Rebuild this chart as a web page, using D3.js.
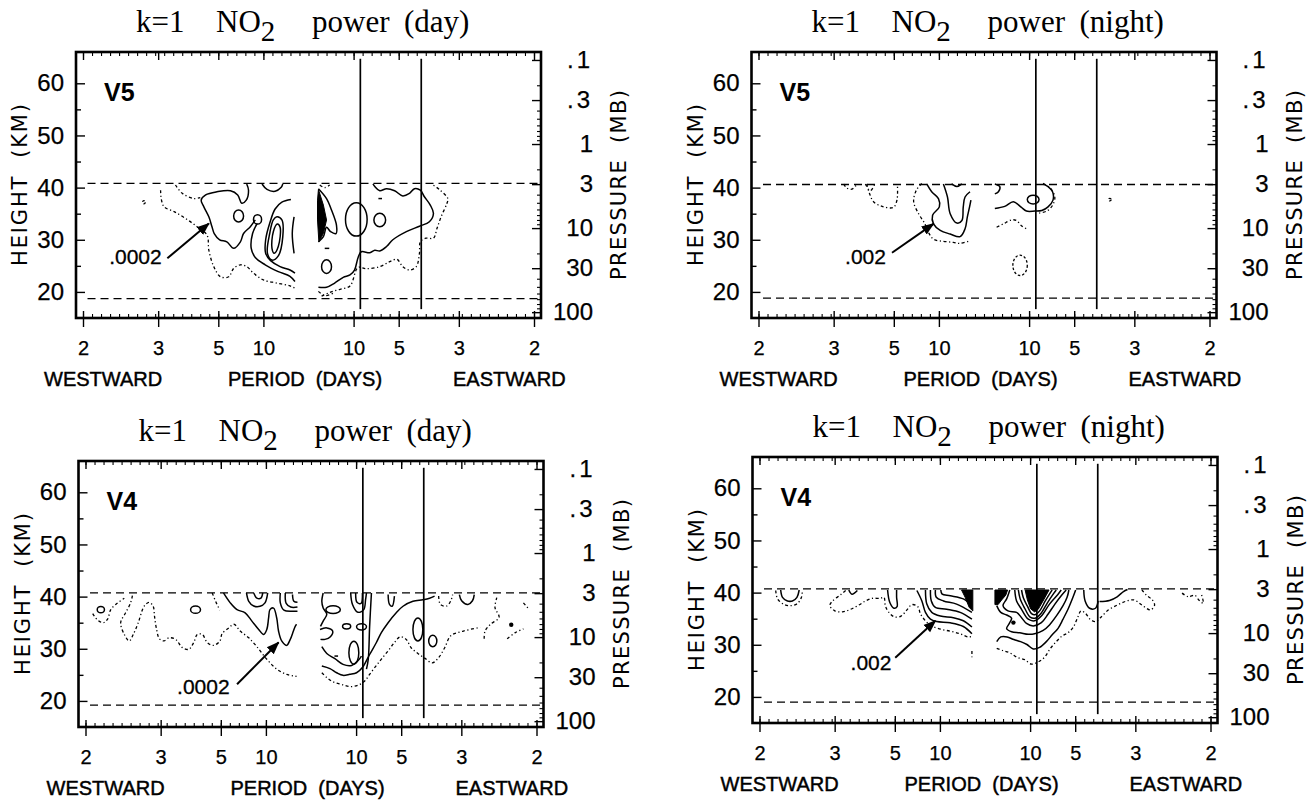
<!DOCTYPE html>
<html>
<head>
<meta charset="utf-8">
<script src="https://cdn.jsdelivr.net/npm/d3@7"></script>
<style>
  body { margin: 0; background: #fff; }
  svg { display: block; }
</style>
</head>
<body>
<svg id="chart" width="1315" height="804"></svg>
<script>
// ---- axis values ----
// signed periods in days, negative = westward (frequency = 1 / period)
const periodTicks = [-2, -3, -5, -10, 10, 5, 3, 2];
const heightTicks = [20, 30, 40, 50, 60];
const heightMinor = [25, 35, 45, 55];
const pressureTicks = [0.1, 0.3, 1, 3, 10, 30, 100];
const pressureLabels = [".1", ".3", "1", "3", "10", "30", "100"];
const pressureMinor = [0.2, 0.4, 0.5, 0.6, 0.7, 0.8, 0.9, 2, 4, 5, 6, 7, 8, 9, 20, 40, 50, 60, 70, 80, 90];
const cutoffPeriods = [8.7, 4.0];          // eastward periods of the two vertical lines
const cutoffHeights = [16.7, 64.7];

// ---- panel values ----
const panelWhen = ["day", "night", "day", "night"];
const panelVersion = ["V5", "V5", "V4", "V4"];
const contourLabel = [".0002", ".002", ".0002", ".002"];
const dashedLevels = [[40.8, 18.7], [40.6, 18.8], [40.7, 19.2], [40.7, 19.0]];
const labelAt = [[-0.442, 25.4], [-0.308, 25.3], [-0.297, 21.3], [-0.298, 25.2]];
const arrowFromTo = [
  [[-0.313, 26.45], [-0.221, 33.1]],
  [[-0.204, 27.5], [-0.112, 33.05]],
  [[-0.164, 23.2], [-0.072, 31.2]],
  [[-0.199, 27.5], [-0.110, 34.6]]
];

// contours as [frequency (cycles/day), height (km)]
// V5 day
const v5DayLines = [
  [[-0.137,40.7],[-0.133,39.5],[-0.138,37.6],[-0.148,37.0],[-0.157,38.6],[-0.173,39.4],[-0.203,39.2],[-0.228,38.6],[-0.238,37.6],[-0.232,36.3],[-0.221,34.4],[-0.214,32.5],[-0.209,31.2],[-0.197,30.0],[-0.181,29.6],[-0.166,28.35],[-0.151,29.6],[-0.144,31.2],[-0.129,32.5],[-0.118,33.8]],
  [[-0.114,33.1],[-0.124,31.2],[-0.127,28.35],[-0.118,26.6],[-0.096,25.2],[-0.067,23.9],[-0.041,23.0],[-0.030,22.0]],
  [[-0.103,40.7],[-0.092,39.65],[-0.074,39.3],[-0.061,40.0],[-0.057,40.7]],
  [[-0.039,37.7],[-0.059,37.2],[-0.074,35.9],[-0.085,33.45],[-0.095,30.0],[-0.095,27.4],[-0.084,26.0],[-0.063,24.85],[-0.041,24.2],[-0.030,23.6]],
  [[-0.032,34.4],[-0.036,31.2],[-0.032,27.4]],
  [[0.022,39.8],[0.040,37.9],[0.051,35.7],[0.062,32.8],[0.061,31.2],[0.049,31.55],[0.040,32.4],[0.033,30.6],[0.022,29.6]],
  [[0.036,28.35],[0.046,28.35]],
  [[0.022,20.9],[0.040,20.9],[0.058,21.7],[0.077,22.8],[0.092,23.25],[0.102,24.2],[0.110,26.6],[0.117,27.7],[0.136,27.5],[0.147,28.0],[0.158,27.85],[0.173,28.7],[0.187,30.0],[0.217,31.55],[0.246,32.6],[0.268,33.45],[0.277,35.05],[0.270,36.65],[0.257,38.25],[0.248,39.5],[0.235,39.8],[0.224,38.9],[0.209,38.4],[0.191,39.4],[0.173,39.8],[0.158,39.4],[0.147,40.2],[0.143,40.7]],
  [[0.155,37.9],[0.163,37.9]]
];
const v5DayRings = [
  [[-0.070,34.4],[-0.059,33.8],[-0.057,30.6],[-0.067,26.9],[-0.081,26.1],[-0.091,27.4],[-0.086,31.2],[-0.078,33.8]],
  [[-0.069,33.0],[-0.063,32.4],[-0.067,28.7],[-0.076,27.4],[-0.081,28.35],[-0.078,31.55]]
];
const v5DayLoops = [[-0.155,34.55,0.011,1.15],[-0.113,33.9,0.009,0.9],[0.040,24.85,0.011,1.3],[0.106,33.9,0.024,3.2],[0.158,33.8,0.013,1.3]];
const v5DayDotted = [
  [[-0.328,39.5],[-0.326,37.6],[-0.320,36.3],[-0.298,35.4],[-0.273,34.1],[-0.247,32.5],[-0.225,30.9],[-0.221,28.0],[-0.210,24.85],[-0.195,22.9],[-0.177,22.9],[-0.166,24.5],[-0.151,25.2],[-0.137,24.85],[-0.122,23.6],[-0.100,22.3],[-0.070,21.7],[-0.041,21.15],[-0.030,20.7]],
  [[-0.295,40.5],[-0.280,38.9],[-0.254,37.9],[-0.240,38.1]],
  [[0.029,19.2],[0.047,19.9],[0.070,20.5],[0.092,21.15],[0.110,24.7],[0.128,24.45],[0.158,24.85],[0.180,25.8],[0.196,26.25],[0.209,24.85],[0.224,24.2],[0.239,24.85],[0.246,27.4],[0.248,29.6],[0.260,30.3],[0.277,30.3],[0.285,32.2],[0.294,34.4],[0.307,37.0],[0.309,37.9],[0.290,39.65],[0.276,40.5]],
  [[0.022,20.1],[0.036,19.3],[0.055,19.75]],
  [[0.025,40.5],[0.036,40.0],[0.047,40.5]]
];
const v5DayDottedLoops = [[-0.365,37.2,0.003,0.3]];
const v5DayFills = [
  [[0.022,39.65],[0.033,36.65],[0.040,33.8],[0.033,31.2],[0.023,29.6],[0.020,33.8],[0.020,37.6]]
];

// V5 night
const v5NightLines = [
  [[-0.127,40.7],[-0.116,39.2],[-0.101,37.9],[-0.099,36.3],[-0.114,34.7],[-0.112,33.05],[-0.097,31.8],[-0.075,31.1],[-0.053,30.6],[-0.042,32.1],[-0.037,34.35],[-0.032,36.3],[-0.029,37.6]],
  [[-0.090,40.7],[-0.081,38.2],[-0.075,35.0],[-0.060,33.2],[-0.049,33.7],[-0.046,36.3],[-0.042,38.2],[-0.031,39.2]],
  [[-0.072,40.7],[-0.060,40.2],[-0.049,40.7]],
  [[0.024,40.7],[0.035,40.2],[0.032,39.2],[0.024,38.8]],
  [[0.024,36.0],[0.046,36.4],[0.065,37.3],[0.083,36.2],[0.094,35.5],[0.113,35.5],[0.128,35.6],[0.142,36.3],[0.153,37.6],[0.152,39.2],[0.142,40.2],[0.131,40.7]]
];
const v5NightRings = [];
const v5NightLoops = [[0.109,37.7,0.013,0.85]];
const v5NightDotted = [
  [[-0.311,40.7],[-0.304,39.9],[-0.293,39.7],[-0.283,40.5]],
  [[-0.263,40.7],[-0.252,39.4],[-0.242,40.7]],
  [[-0.260,40.7],[-0.254,38.9],[-0.245,37.3],[-0.226,36.4],[-0.201,36.2],[-0.193,37.6],[-0.192,40.7]],
  [[-0.138,40.8],[-0.150,39.5],[-0.156,37.3],[-0.145,35.0],[-0.131,33.05],[-0.123,31.4],[-0.112,30.1],[-0.090,29.7],[-0.068,29.5],[-0.053,29.3],[-0.035,29.7]],
  [[0.131,40.8],[0.147,39.9],[0.157,38.2],[0.152,36.6],[0.139,35.5],[0.120,35.1]],
  [[0.028,32.4],[0.043,33.05],[0.061,33.8],[0.072,33.7],[0.083,32.7],[0.094,32.1]]
];
const v5NightDottedLoops = [[0.080,25.1,0.016,1.95],[0.279,37.7,0.003,0.25]];
const v5NightFills = [];

// V4 day
const v4DayLines = [
  [[-0.194,40.7],[-0.179,38.8],[-0.164,37.5],[-0.146,36.9],[-0.131,35.3],[-0.116,33.7],[-0.105,32.75],[-0.098,33.7],[-0.094,35.9],[-0.091,37.5],[-0.083,37.8],[-0.076,35.9],[-0.072,33.4],[-0.065,31.5],[-0.054,30.65],[-0.046,31.8],[-0.039,33.4],[-0.035,34.3],[-0.032,34.7]],
  [[-0.143,40.7],[-0.138,39.1],[-0.127,38.2],[-0.113,38.15],[-0.102,38.8],[-0.096,40.7]],
  [[-0.127,40.7],[-0.120,39.7],[-0.111,39.7],[-0.107,40.7]],
  [[-0.068,40.7],[-0.068,38.8],[-0.060,37.4],[-0.039,37.2],[-0.030,37.2]],
  [[-0.057,40.7],[-0.055,38.7],[-0.045,38.0],[-0.030,38.0]],
  [[-0.041,40.4],[-0.038,39.1],[-0.030,38.9]],
  [[0.088,40.7],[0.092,38.5],[0.104,37.0],[0.117,37.5],[0.121,39.4],[0.123,40.7]],
  [[0.099,40.7],[0.102,38.9],[0.111,38.7],[0.114,40.7]],
  [[0.134,40.7],[0.130,34.3],[0.127,28.0],[0.123,26.1]],
  [[0.171,40.4],[0.174,38.5],[0.180,38.15],[0.185,40.1]],
  [[0.024,26.7],[0.042,26.2],[0.057,25.4],[0.071,24.9],[0.086,25.1],[0.101,25.4],[0.114,26.4],[0.130,28.9],[0.145,31.2],[0.156,33.1],[0.171,35.0],[0.189,36.9],[0.204,38.15],[0.226,39.1],[0.248,39.4],[0.263,39.7],[0.274,40.1]],
  [[0.020,33.7],[0.035,34.0],[0.048,33.4],[0.043,32.3],[0.031,31.8],[0.021,31.8]],
  [[0.024,30.4],[0.035,29.1],[0.053,28.1],[0.071,27.0],[0.090,26.8],[0.104,27.7],[0.112,28.6]],
  [[0.027,40.7],[0.024,39.1],[0.027,37.8],[0.035,36.6],[0.027,35.3],[0.021,34.3]],
  [[0.329,40.4],[0.334,39.2],[0.348,38.5],[0.358,39.2],[0.362,40.4]],
  [[0.052,28.6],[0.060,28.6]]
];
const v4DayRings = [];
const v4DayLoops = [[-0.466,37.5,0.008,0.6],[-0.256,37.5,0.011,0.7],[0.049,37.5,0.016,0.75],[0.079,34.3,0.009,0.5],[0.112,34.2,0.011,0.6],[0.095,29.25,0.011,2.2],[0.237,33.7,0.011,2.2],[0.270,31.5,0.009,1.1]];
const v4DayDotted = [
  [[-0.484,36.75],[-0.473,35.5],[-0.460,35.0],[-0.451,35.7],[-0.444,37.5],[-0.433,38.5],[-0.414,39.7]],
  [[-0.396,40.2],[-0.400,38.8],[-0.411,36.9],[-0.422,35.0],[-0.414,32.75],[-0.403,31.5],[-0.394,32.75],[-0.383,35.0],[-0.370,38.15],[-0.359,38.9],[-0.350,38.15],[-0.347,36.25],[-0.343,34.0],[-0.336,31.9],[-0.326,31.5],[-0.315,32.1],[-0.300,31.8],[-0.285,30.2],[-0.271,29.9],[-0.260,31.2],[-0.252,32.75],[-0.241,32.75],[-0.230,31.2],[-0.216,30.65],[-0.202,31.5],[-0.197,32.9],[-0.182,34.0],[-0.171,34.7],[-0.157,33.4],[-0.138,32.1],[-0.120,30.4],[-0.098,28.0],[-0.076,26.1],[-0.054,25.1],[-0.032,24.7]],
  [[-0.219,40.7],[-0.210,38.8],[-0.202,37.4]],
  [[0.024,25.4],[0.035,24.5],[0.049,23.65],[0.068,23.15],[0.086,22.75],[0.104,23.0],[0.119,23.8],[0.130,25.1],[0.145,26.8],[0.156,28.0],[0.171,29.6],[0.185,31.2],[0.198,32.3],[0.211,31.8],[0.222,30.2],[0.237,29.1],[0.252,28.2],[0.269,27.3],[0.283,28.3],[0.297,30.3],[0.310,32.5],[0.338,33.4],[0.375,34.1]],
  [[0.283,40.1],[0.287,38.5],[0.301,38.2],[0.310,39.2],[0.314,40.4]],
  [[0.384,31.9],[0.386,33.4],[0.398,34.7],[0.417,36.0],[0.408,37.9],[0.412,39.8]],
  [[0.435,31.9],[0.453,33.1],[0.471,33.8]],
  [[0.471,38.8],[0.483,37.6]]
];
const v4DayDottedLoops = [];
const v4DayFills = [];
const v4DayDots = [[0.444,34.6]];

// V4 night
const v4NightLines = [
  [[-0.453,40.5],[-0.449,39.1],[-0.438,38.4],[-0.427,38.4],[-0.417,39.1],[-0.412,40.5]],
  [[-0.302,40.5],[-0.295,39.7],[-0.283,40.4]],
  [[-0.216,40.5],[-0.211,38.1],[-0.202,37.0],[-0.195,37.3],[-0.196,39.1],[-0.196,40.5]],
  [[-0.132,40.5],[-0.129,37.8],[-0.118,36.2],[-0.099,35.5],[-0.070,35.2],[-0.048,34.6],[-0.029,33.4]],
  [[-0.121,40.5],[-0.119,38.4],[-0.110,37.15],[-0.085,36.8],[-0.055,36.2],[-0.029,34.9]],
  [[-0.110,40.5],[-0.108,39.1],[-0.092,38.4],[-0.063,37.8],[-0.029,36.2]],
  [[-0.098,40.5],[-0.095,39.7],[-0.077,39.4],[-0.048,38.8],[-0.029,37.5]],
  [[-0.151,40.4],[-0.140,38.4],[-0.132,36.2],[-0.121,34.9],[-0.107,34.45],[-0.077,34.2],[-0.048,33.5],[-0.029,32.1]],
  [[0.055,40.5],[0.048,38.8],[0.040,37.5],[0.051,36.5],[0.070,36.2],[0.081,35.2],[0.092,34.1],[0.107,33.6],[0.125,34.25],[0.140,35.9],[0.155,37.8],[0.169,39.4],[0.180,40.5]],
  [[0.066,40.5],[0.070,38.4],[0.081,36.8],[0.096,34.9],[0.110,34.6],[0.125,35.5],[0.143,37.8],[0.162,39.7],[0.169,40.5]],
  [[0.074,40.5],[0.078,38.8],[0.088,37.0],[0.100,35.3],[0.111,35.1],[0.124,36.0],[0.138,38.0],[0.152,39.8],[0.158,40.5]],
  [[0.081,40.5],[0.085,39.0],[0.094,37.4],[0.104,35.9],[0.112,35.8],[0.122,36.6],[0.133,38.3],[0.145,40.0],[0.149,40.5]],
  [[0.026,37.5],[0.035,36.2],[0.048,35.7],[0.059,35.1],[0.054,34.1],[0.048,33.1],[0.059,32.5],[0.077,32.3],[0.096,32.0],[0.110,32.1],[0.129,32.75],[0.143,33.8],[0.158,35.5],[0.173,37.5],[0.182,39.1],[0.186,40.5]],
  [[0.026,30.6],[0.035,31.5],[0.049,31.5],[0.064,31.0],[0.079,30.6],[0.093,30.05],[0.107,29.2],[0.121,29.5],[0.136,30.6],[0.149,31.9],[0.162,33.15],[0.173,34.9],[0.184,36.8],[0.195,39.1],[0.201,40.5]],
  [[0.219,40.5],[0.222,38.4],[0.232,37.0],[0.245,37.0],[0.251,38.4]],
  [[0.254,38.3],[0.276,38.5],[0.293,39.2],[0.307,40.2],[0.316,40.6]]
];
const v4NightRings = [];
const v4NightLoops = [];
const v4NightDotted = [
  [[-0.464,40.4],[-0.460,38.8],[-0.445,37.7],[-0.430,37.5],[-0.416,37.9],[-0.407,39.1],[-0.405,40.4]],
  [[-0.309,40.4],[-0.320,39.6],[-0.338,38.4],[-0.344,37.5],[-0.333,36.5],[-0.316,36.3],[-0.298,36.8],[-0.280,37.6],[-0.265,38.4],[-0.250,38.9],[-0.232,38.9],[-0.224,39.1],[-0.221,37.5],[-0.213,36.2],[-0.201,35.35],[-0.186,35.5],[-0.174,36.6],[-0.162,37.7],[-0.149,37.3],[-0.143,35.9],[-0.132,34.6],[-0.118,33.6],[-0.099,33.0],[-0.077,32.6],[-0.055,32.1],[-0.037,31.5],[-0.027,31.65]],
  [[-0.029,28.8],[-0.029,27.6]],
  [[0.026,29.3],[0.039,28.9],[0.055,28.45],[0.071,27.6],[0.088,27.15],[0.103,26.3],[0.118,26.7],[0.132,27.6],[0.145,29.3],[0.158,30.6],[0.171,31.7],[0.184,32.3],[0.196,33.4],[0.206,35.35],[0.213,36.5],[0.223,36.0],[0.233,34.9],[0.245,34.45],[0.256,35.2],[0.274,36.7],[0.293,37.6],[0.311,38.3],[0.330,38.6],[0.348,37.6],[0.367,36.7],[0.376,37.6],[0.371,38.6],[0.358,39.5],[0.348,40.5]],
  [[0.437,39.9],[0.451,39.2],[0.465,39.5],[0.474,38.6],[0.484,37.95],[0.479,39.9]]
];
const v4NightDottedLoops = [];
const v4NightFills = [
  [[-0.052,40.5],[-0.027,40.5],[-0.027,36.5],[-0.035,37.15],[-0.044,39.1]],
  [[0.022,40.5],[0.050,40.5],[0.046,39.5],[0.037,38.6],[0.029,37.7],[0.022,37.7]],
  [[0.089,40.5],[0.142,40.5],[0.130,38.6],[0.118,36.8],[0.110,36.3],[0.101,36.9],[0.094,38.6]]
];
const v4NightDots = [[0.063,34.25]];

const panelContours = [
  { lines: v5DayLines, rings: v5DayRings, loops: v5DayLoops, dotted: v5DayDotted, dottedLoops: v5DayDottedLoops, fills: v5DayFills, dots: [] },
  { lines: v5NightLines, rings: v5NightRings, loops: v5NightLoops, dotted: v5NightDotted, dottedLoops: v5NightDottedLoops, fills: v5NightFills, dots: [] },
  { lines: v4DayLines, rings: v4DayRings, loops: v4DayLoops, dotted: v4DayDotted, dottedLoops: v4DayDottedLoops, fills: v4DayFills, dots: v4DayDots },
  { lines: v4NightLines, rings: v4NightRings, loops: v4NightLoops, dotted: v4NightDotted, dottedLoops: v4NightDottedLoops, fills: v4NightFills, dots: v4NightDots }
];

// ---- layout ----
const layout = [
  { cx: 308.5, top: 52 },
  { cx: 984, top: 52 },
  { cx: 311, top: 461 },
  { cx: 985, top: 457 }
];
const halfW = 232.5, tickHalf = 225.5, frameH = 266;
const sans = "'Liberation Sans', Arial, Helvetica, sans-serif";

const svg = d3.select('#chart');
svg.append('defs').append('marker')
  .attr('id', 'arrowHead')
  .attr('viewBox', '0 0 10 10')
  .attr('refX', 9).attr('refY', 5)
  .attr('markerUnits', 'userSpaceOnUse')
  .attr('markerWidth', 13).attr('markerHeight', 13)
  .attr('orient', 'auto')
  .append('path').attr('d', 'M0,1.2L10,5L0,8.8Z').attr('fill', '#000');

const heightOfPressure = p => 7 * Math.log(1000 / p);

function styleAxis(a, size) {
  a.select('.domain').remove();
  a.attr('font-family', sans).attr('font-size', size);
  a.selectAll('line').attr('stroke', '#000').attr('stroke-width', 1.4);
  a.selectAll('text').attr('fill', '#000').attr('stroke', '#000').attr('stroke-width', 0.25);
}

function drawPanel(i) {
  const L = layout[i];
  const left = L.cx - halfW, right = L.cx + halfW, top = L.top, bottom = L.top + frameH;
  const x = d3.scaleLinear().domain([-0.5, 0.5]).range([L.cx - tickHalf, L.cx + tickHalf]);
  const y = d3.scaleLinear().domain([15, 66]).range([bottom, top]);
  const yP = d3.scaleLog().domain([0.1, 100])
    .range([y(heightOfPressure(0.1)), y(heightOfPressure(100))]);
  const g = svg.append('g');

  // title
  const t = g.append('text').attr('y', top - 20)
    .attr('font-family', "'Liberation Serif', 'Times New Roman', serif")
    .attr('font-size', 31).attr('fill', '#000');
  t.append('tspan').attr('x', left + 60).text('k=1');
  t.append('tspan').attr('x', left + 140).text('NO');
  t.append('tspan').attr('dy', 9).attr('font-size', 29).text('2');
  t.append('tspan').attr('x', left + 236).attr('dy', -9).text('power');
  t.append('tspan').attr('x', left + 328).text('(' + panelWhen[i] + ')');

  // ticks
  const minorFreq = d3.range(-25, 26).map(k => k * 0.02);
  const majorFreq = periodTicks.map(p => 1 / p);

  g.append('g').attr('transform', `translate(0,${bottom})`)
    .call(d3.axisBottom(x).tickValues(majorFreq).tickSize(9).tickPadding(14)
      .tickFormat((d, k) => Math.abs(periodTicks[k])))
    .call(a => styleAxis(a, 20));
  g.append('g').attr('transform', `translate(0,${bottom})`)
    .call(d3.axisBottom(x).tickValues(majorFreq).tickSize(-7).tickFormat(''))
    .call(a => styleAxis(a, 20));
  g.append('g').attr('transform', `translate(0,${bottom})`)
    .call(d3.axisBottom(x).tickValues(minorFreq).tickSize(-4).tickFormat(''))
    .call(a => { styleAxis(a, 20); a.selectAll('line').attr('stroke-width', 1.1); });
  g.append('g').attr('transform', `translate(0,${top})`)
    .call(d3.axisTop(x).tickValues(minorFreq).tickSize(-4).tickFormat(''))
    .call(a => { styleAxis(a, 20); a.selectAll('line').attr('stroke-width', 1.1); });
  g.append('g').attr('transform', `translate(0,${top})`)
    .call(d3.axisTop(x).tickValues(majorFreq).tickSize(-8).tickFormat(''))
    .call(a => styleAxis(a, 20));

  g.append('g').attr('transform', `translate(${left},0)`)
    .call(d3.axisLeft(y).tickValues(heightTicks).tickSize(-9).tickPadding(12))
    .call(a => styleAxis(a, 24));
  g.append('g').attr('transform', `translate(${left},0)`)
    .call(d3.axisLeft(y).tickValues(heightMinor).tickSize(-5).tickFormat(''))
    .call(a => styleAxis(a, 24));

  g.append('g').attr('transform', `translate(${right},0)`)
    .call(d3.axisRight(yP).tickValues(pressureTicks).tickSize(-9)
      .tickFormat((d, k) => pressureLabels[k]))
    .call(a => {
      styleAxis(a, 24);
      a.selectAll('text').attr('text-anchor', 'end').attr('x', 52)
        .attr('letter-spacing', (d) => d < 1 ? 3 : 0);
    });
  g.append('g').attr('transform', `translate(${right},0)`)
    .call(d3.axisRight(yP).tickValues(pressureMinor).tickSize(-4).tickFormat(''))
    .call(a => { styleAxis(a, 24); a.selectAll('line').attr('stroke-width', 1.1); });

  // frame
  g.append('rect').attr('x', left).attr('y', top).attr('width', 2 * halfW).attr('height', frameH)
    .attr('fill', 'none').attr('stroke', '#000').attr('stroke-width', 2.6);

  // axis titles
  g.append('text').attr('transform', `translate(${left - 49},${top + frameH / 2}) rotate(-90)`)
    .attr('text-anchor', 'middle').attr('font-family', "'DejaVu Sans', sans-serif")
    .attr('font-size', 21).attr('textLength', 162).attr('lengthAdjust', 'spacing')
    .style('white-space', 'pre').attr('fill', '#000').text('HEIGHT  (KM)');
  g.append('text').attr('transform', `translate(${right + 85},${top + frameH / 2}) rotate(-90)`)
    .attr('text-anchor', 'middle').attr('font-family', "'DejaVu Sans', sans-serif")
    .attr('font-size', 21).attr('textLength', 190).attr('lengthAdjust', 'spacing')
    .style('white-space', 'pre').attr('fill', '#000').text('PRESSURE  (MB)');

  const under = g.append('g').attr('font-family', sans).attr('font-size', 20)
    .attr('fill', '#000').attr('stroke', '#000').attr('stroke-width', 0.45);
  under.append('text').attr('x', left - 32).attr('y', bottom + 68).text('WESTWARD');
  under.append('text').attr('x', left + 152).attr('y', bottom + 68)
    .style('white-space', 'pre').text('PERIOD  (DAYS)');
  under.append('text').attr('x', left + 377).attr('y', bottom + 68).text('EASTWARD');

  // version tag
  g.append('text').attr('x', left + 28).attr('y', top + 49)
    .attr('font-family', sans).attr('font-size', 25).attr('font-weight', 'bold')
    .attr('fill', '#000').text(panelVersion[i]);

  // dashed levels
  dashedLevels[i].forEach(h => {
    g.append('line').attr('x1', x(-0.49)).attr('x2', right)
      .attr('y1', y(h)).attr('y2', y(h))
      .attr('stroke', '#000').attr('stroke-width', 1.3).attr('stroke-dasharray', '8,5');
  });

  // cutoff lines
  cutoffPeriods.forEach(p => {
    g.append('line').attr('x1', x(1 / p)).attr('x2', x(1 / p))
      .attr('y1', y(cutoffHeights[0])).attr('y2', y(cutoffHeights[1]))
      .attr('stroke', '#000').attr('stroke-width', 1.7);
  });

  // contours
  const C = panelContours[i];
  const open = d3.line().x(d => x(d[0])).y(d => y(d[1])).curve(d3.curveCatmullRom.alpha(0.5));
  const closed = d3.line().x(d => x(d[0])).y(d => y(d[1])).curve(d3.curveCatmullRomClosed.alpha(0.5));
  const poly = d3.line().x(d => x(d[0])).y(d => y(d[1])).curve(d3.curveLinearClosed);

  g.selectAll(null).data(C.fills).join('path').attr('d', poly)
    .attr('fill', '#000').attr('stroke', '#000').attr('stroke-width', 1);
  g.selectAll(null).data(C.lines).join('path').attr('d', open)
    .attr('fill', 'none').attr('stroke', '#000').attr('stroke-width', 1.5);
  g.selectAll(null).data(C.rings).join('path').attr('d', closed)
    .attr('fill', 'none').attr('stroke', '#000').attr('stroke-width', 1.5);
  g.selectAll(null).data(C.dotted).join('path').attr('d', open)
    .attr('fill', 'none').attr('stroke', '#000').attr('stroke-width', 1.3)
    .attr('stroke-dasharray', '3,2.5,1.2,2.5');
  g.selectAll(null).data(C.loops).join('ellipse')
    .attr('cx', d => x(d[0])).attr('cy', d => y(d[1]))
    .attr('rx', d => x(d[0] + d[2]) - x(d[0])).attr('ry', d => y(d[1]) - y(d[1] + d[3]))
    .attr('fill', 'none').attr('stroke', '#000').attr('stroke-width', 1.5);
  g.selectAll(null).data(C.dottedLoops).join('ellipse')
    .attr('cx', d => x(d[0])).attr('cy', d => y(d[1]))
    .attr('rx', d => x(d[0] + d[2]) - x(d[0])).attr('ry', d => y(d[1]) - y(d[1] + d[3]))
    .attr('fill', 'none').attr('stroke', '#000').attr('stroke-width', 1.3)
    .attr('stroke-dasharray', '2.5,2');
  g.selectAll(null).data(C.dots).join('circle')
    .attr('cx', d => x(d[0])).attr('cy', d => y(d[1])).attr('r', 2.2).attr('fill', '#000');

  // contour value label and arrow
  g.append('text').attr('x', x(labelAt[i][0])).attr('y', y(labelAt[i][1]))
    .attr('font-family', sans).attr('font-size', 21).attr('fill', '#000')
    .attr('stroke', '#000').attr('stroke-width', 0.3)
    .text(contourLabel[i]);
  const ar = arrowFromTo[i];
  g.append('line').attr('x1', x(ar[0][0])).attr('y1', y(ar[0][1]))
    .attr('x2', x(ar[1][0])).attr('y2', y(ar[1][1]))
    .attr('stroke', '#000').attr('stroke-width', 2).attr('marker-end', 'url(#arrowHead)');
}

[0, 1, 2, 3].forEach(drawPanel);
</script>
</body>
</html>
